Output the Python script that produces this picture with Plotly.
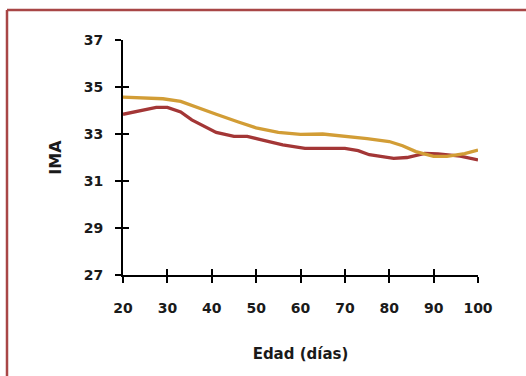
import plotly.graph_objects as go

# Data
red_x = [20, 24, 27.5, 30, 33, 35.5, 41, 45, 48, 51, 56, 61, 70, 73, 75.5, 81, 84, 88, 91, 96, 100]
red_y = [33.84, 33.99, 34.13, 34.13, 33.94, 33.6, 33.07, 32.9, 32.9, 32.76, 32.54, 32.39, 32.39, 32.29, 32.12, 31.96, 32.0, 32.17, 32.15, 32.06, 31.9]

gold_x = [20, 25, 29, 33, 36, 41, 46, 50, 55, 60, 65, 71, 75, 80, 83, 86, 90, 93, 97, 100]
gold_y = [34.57, 34.55, 34.5, 34.39, 34.17, 33.84, 33.51, 33.26, 33.07, 32.98, 33.0, 32.9, 32.8, 32.68, 32.5, 32.25, 32.05, 32.05, 32.17, 32.32]

x_ticks = [20, 30, 40, 50, 60, 70, 80, 90, 100]
y_ticks = [27, 29, 31, 33, 35, 37]

RED = "#A33636"
GOLD = "#D29D36"
BORDER = "#A84646"
FONT = "DejaVu Sans"

fig = go.Figure()
fig.add_trace(go.Scatter(x=red_x, y=red_y, mode="lines",
                         line=dict(color=RED, width=3.3), showlegend=False))
fig.add_trace(go.Scatter(x=gold_x, y=gold_y, mode="lines",
                         line=dict(color=GOLD, width=3.3), showlegend=False))
# invisible trace to activate overlay axes (inner halves of crossing ticks)
fig.add_trace(go.Scatter(x=[20], y=[27], mode="none", xaxis="x2", yaxis="y2",
                         showlegend=False, hoverinfo="skip"))

tickfont = dict(family=FONT, size=14, color="#1a1a1a", weight="bold")

fig.update_layout(
    width=526, height=376,
    margin=dict(l=123, r=48, t=40, b=101),
    paper_bgcolor="white", plot_bgcolor="white",
    xaxis=dict(range=[20, 100], tickvals=x_ticks, ticks="outside", ticklen=6,
               tickwidth=2, tickcolor="black", showline=True, linecolor="black",
               linewidth=2, showgrid=False, zeroline=False, tickfont=tickfont,
               ticklabelstandoff=13,
               title=dict(text="Edad (días)", font=dict(family=FONT, size=15, color="#1a1a1a", weight="bold"),
                          standoff=34)),
    yaxis=dict(range=[27, 37], tickvals=y_ticks, ticks="outside", ticklen=6,
               tickwidth=2, tickcolor="black", showline=True, linecolor="black",
               linewidth=2, showgrid=False, zeroline=False, tickfont=tickfont,
               ticklabelstandoff=9,
               title=dict(text="IMA", font=dict(family=FONT, size=16, color="#1a1a1a", weight="bold"),
                          standoff=18)),
    xaxis2=dict(range=[20, 100], tickvals=x_ticks, ticks="inside", ticklen=6,
                tickwidth=2, tickcolor="black", showticklabels=False, showgrid=False,
                zeroline=False, overlaying="x", anchor="y2", side="bottom"),
    yaxis2=dict(range=[27, 37], tickvals=y_ticks, ticks="inside", ticklen=6,
                tickwidth=2, tickcolor="black", showticklabels=False, showgrid=False,
                zeroline=False, overlaying="y", anchor="x2", side="left"),
    shapes=[
        dict(type="line", xref="paper", yref="paper",
             x0=(7 - 123) / 355, x1=(7 - 123) / 355, y0=(275 - 10) / 235, y1=(275 - 390) / 235,
             line=dict(color=BORDER, width=2.5)),
        dict(type="line", xref="paper", yref="paper",
             x0=(7 - 123) / 355, x1=(540 - 123) / 355, y0=(275 - 10) / 235, y1=(275 - 10) / 235,
             line=dict(color=BORDER, width=2.5)),
    ],
)

fig.write_html("out.html", config={"displayModeBar": False},
               post_script="document.body.style.margin='0';document.body.style.overflow='hidden';")
